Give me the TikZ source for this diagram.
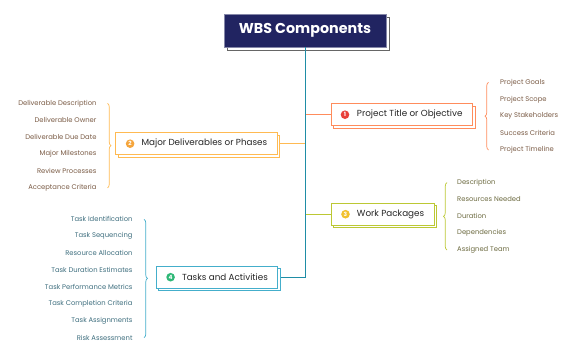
\documentclass[tikz,border=0pt]{standalone}
\usepackage{fontspec}
\setmainfont{Poppins}
\usetikzlibrary{calc, shadows, decorations.pathreplacing}
\definecolor{navy}{HTML}{212461}
\definecolor{trunkc}{HTML}{1F8DA6}
\definecolor{ca}{HTML}{FF8C5C}
\definecolor{cb}{HTML}{FFBA52}
\definecolor{cc}{HTML}{BCC834}
\definecolor{cd}{HTML}{44AECB}
\definecolor{na}{HTML}{E8403A}
\definecolor{nb}{HTML}{F5A53C}
\definecolor{nc}{HTML}{F2C12E}
\definecolor{nd}{HTML}{2FB877}
\definecolor{la}{HTML}{7A5B45}
\definecolor{lc}{HTML}{6C6A40}
\definecolor{ld}{HTML}{3E6E7E}
\tikzstyle{title}=[shape=rectangle, fill=navy, draw=navy!55, line width=.8pt, text=white, minimum width=162pt, minimum height=33pt, font=\fontsize{14.3}{16}\selectfont\bfseries, copy shadow={shadow xshift=3pt, shadow yshift=-3pt, draw=black!60, fill=white, line width=.6pt}]
\tikzstyle{box}=[shape=rectangle, draw=#1, fill=white, line width=.9pt, inner xsep=10pt, minimum height=22pt, text=black!85, font=\fontsize{8.8}{10}\selectfont, copy shadow={shadow xshift=2.5pt, shadow yshift=-2.5pt, draw=#1, fill=white, line width=.9pt}]
\tikzstyle{num}=[shape=circle, fill=#1, inner sep=0, minimum size=8.6pt, text=white, font=\fontsize{5.8}{6}\selectfont\bfseries]
\tikzstyle{leaf}=[inner sep=0, text=#1, font=\fontsize{6.8}{8}\selectfont]
\tikzstyle{br}=[draw=#1, line width=.7pt, decorate, decoration={brace, amplitude=3.5pt}]

\begin{document}
\begin{tikzpicture}[x=1pt, y=-1pt]
\useasboundingbox (0,0) rectangle (576,360);
%\draw[help lines,step=10pt] (0,0) grid (576,360);
\node at (305,30.5)[title](title){WBS Components};
\node at (330.5,114.7)[box=ca, anchor=west](b1){\hspace{16pt}Project Title or Objective};
\node at (277.7,143.7)[box=cb, anchor=east](b2){\hspace{16pt}Major Deliverables or Phases};
\node at (330.5,214.2)[box=cc, anchor=west](b3){\hspace{16pt}Work Packages};
\node at (278.3,277.2)[box=cd, anchor=east](b4){\hspace{16pt}Tasks and Activities};
\node at ([xshift=14.5pt]b1.west)[num=na](n1){1};
\node at ([xshift=15pt]b2.west)[num=nb](n2){2};
\node at ([xshift=15pt]b3.west)[num=nc](n3){3};
\node at ([xshift=15pt]b4.west)[num=nd](n4){4};
% project title
\node at (500,82.3)[leaf=la, anchor=west](a1){Project Goals};
\node at (500,99.3)[leaf=la, anchor=west](a2){Project Scope};
\node at (500,116)[leaf=la, anchor=west](a3){Key Stakeholders};
\node at (500,133)[leaf=la, anchor=west](a4){Success Criteria};
\node at (500,150)[leaf=la, anchor=west](a5){Project Timeline};
% deliverables
\node at (96.7,103.3)[leaf=la, anchor=east](d1){Deliverable Description};
\node at (96.7,120.3)[leaf=la, anchor=east](d2){Deliverable Owner};
\node at (96.7,137.2)[leaf=la, anchor=east](d3){Deliverable Due Date};
\node at (96.7,154.1)[leaf=la, anchor=east](d4){Major Milestones};
\node at (96.7,171)[leaf=la, anchor=east](d5){Review Processes};
\node at (96.7,187.8)[leaf=la, anchor=east](d6){Acceptance Criteria};
% work packages
\node at (457,182.7)[leaf=lc, anchor=west](w1){Description};
\node at (457,199.5)[leaf=lc, anchor=west](w2){Resources Needed};
\node at (457,216.3)[leaf=lc, anchor=west](w3){Duration};
\node at (457,233.1)[leaf=lc, anchor=west](w4){Dependencies};
\node at (457,250)[leaf=lc, anchor=west](w5){Assigned Team};
% tasks
\node at (132.7,219.3)[leaf=ld, anchor=east](k1){Task Identification};
\node at (132.7,236.2)[leaf=ld, anchor=east](k2){Task Sequencing};
\node at (132.7,253.1)[leaf=ld, anchor=east](k3){Resource Allocation};
\node at (132.7,270)[leaf=ld, anchor=east](k4){Task Duration Estimates};
\node at (132.7,286.9)[leaf=ld, anchor=east](k5){Task Performance Metrics};
\node at (132.7,303.8)[leaf=ld, anchor=east](k6){Task Completion Criteria};
\node at (132.7,320.7)[leaf=ld, anchor=east](k7){Task Assignments};
\node at (132.7,337.6)[leaf=ld, anchor=east](k8){Risk Assessment};
\draw[br=ca] ([xshift=-11.5pt]a5.west)--([xshift=-11.5pt]a1.west);
\draw[br=cb] ([xshift=10.8pt]d1.east)--([xshift=10.8pt]d6.east);
\draw[br=cc] ([xshift=-10pt]w5.west)--([xshift=-10pt]w1.west);
\draw[br=cd] ([xshift=11.3pt]k1.east)--([xshift=11.3pt]k8.east);
\draw[ca, line width=.9pt] (title.south |- b1.west)--(b1.west);
\draw[cb, line width=.9pt] (title.south |- b2.east)--([xshift=2.5pt]b2.east);
\draw[cc, line width=.9pt] (title.south |- b3.west)--(b3.west);
\draw[trunkc, line width=.9pt] (title.south)--(title.south |- b4.east)--([xshift=2.5pt]b4.east);
\end{tikzpicture}
\end{document}
